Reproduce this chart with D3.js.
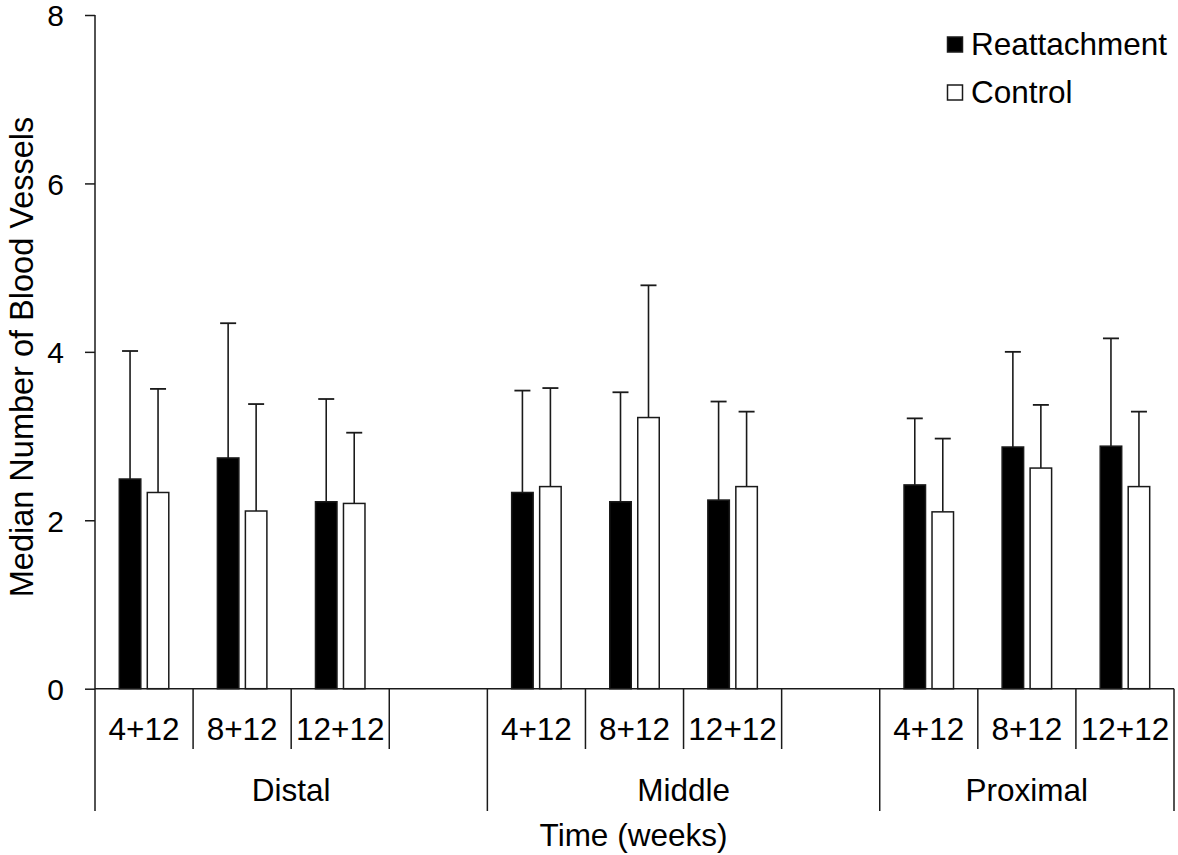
<!DOCTYPE html>
<html>
<head>
<meta charset="utf-8">
<script src="https://cdn.jsdelivr.net/npm/d3@7"></script>
<style>
  html, body { margin: 0; padding: 0; background: #fff; }
  svg { display: block; font-family: "Liberation Sans", Arial, Helvetica, sans-serif; }
  text { fill: #000; }
</style>
</head>
<body>
<svg id="chart" width="1178" height="855"></svg>
<script>
// ---- data ----
const groups = ["Distal", "Middle", "Proximal"];
const times = ["4+12", "8+12", "12+12"];
const seriesNames = ["Reattachment", "Control"];
const reattachment = [2.49, 2.74, 2.22, 2.33, 2.22, 2.24, 2.42, 2.87, 2.88];
const reattachmentUpper = [4.01, 4.34, 3.44, 3.54, 3.52, 3.41, 3.21, 4.00, 4.16];
const control = [2.33, 2.11, 2.20, 2.40, 3.22, 2.40, 2.10, 2.62, 2.40];
const controlUpper = [3.56, 3.38, 3.04, 3.57, 4.79, 3.29, 2.97, 3.37, 3.29];
const yTicks = [0, 2, 4, 6, 8];

// ---- layout ----
const svg = d3.select("#chart");
const plotLeft = 95, plotRight = 1174, plotTop = 15, plotBase = 688.7;
const ink = "#1a1a1a";
const labelSize = "31.5px";

// slots: each group has 3 time slots plus one empty slot (except last group)
const slots = [];
groups.forEach((g, gi) => {
  times.forEach((t, ti) => slots.push({ key: g + "|" + t, group: g, time: t, idx: gi * 3 + ti }));
  if (gi < groups.length - 1) slots.push({ key: g + "|empty", group: g, time: "", idx: -1 });
});

const y = d3.scaleLinear().domain([0, 8]).range([plotBase, plotTop]);
const x0 = d3.scaleBand().domain(slots.map(d => d.key)).range([plotLeft, plotRight]).padding(0);
const x1 = d3.scaleBand().domain(seriesNames).range([0, x0.bandwidth()])
  .paddingInner(0.232).paddingOuter(0.868);

// y axis
const yAxis = d3.axisLeft(y).tickValues(yTicks).tickSize(10).tickPadding(21).tickFormat(d3.format("d"));
const yg = svg.append("g").attr("transform", `translate(${plotLeft},0)`).call(yAxis);
yg.select(".domain").remove();
yg.selectAll(".tick line").attr("stroke", ink).attr("stroke-width", 1.5);
yg.selectAll(".tick text").attr("fill", "#000").style("font-size", "30px")
  .style("font-family", "'Liberation Sans', Arial, sans-serif").attr("dy", "0.36em");
svg.append("line").attr("x1", plotLeft).attr("x2", plotLeft).attr("y1", y(8)).attr("y2", 811)
  .attr("stroke", ink).attr("stroke-width", 1.5);

// baseline
svg.append("line").attr("x1", plotLeft).attr("x2", plotRight).attr("y1", plotBase).attr("y2", plotBase)
  .attr("stroke", ink).attr("stroke-width", 1.5);

// category separators
slots.forEach((s, i) => {
  const xr = x0(s.key) + x0.bandwidth();
  const isGroupEnd = (i === slots.length - 1) || (slots[i + 1] && slots[i + 1].group !== s.group);
  svg.append("line").attr("x1", xr).attr("x2", xr).attr("y1", plotBase).attr("y2", isGroupEnd ? 811 : 749)
    .attr("stroke", ink).attr("stroke-width", 1.5);
});

// category labels
svg.selectAll("text.cat").data(slots.filter(d => d.time)).join("text")
  .attr("class", "cat")
  .attr("x", d => x0(d.key) + x0.bandwidth() / 2)
  .attr("y", 740)
  .attr("text-anchor", "middle")
  .style("font-size", labelSize)
  .text(d => d.time);

// group labels
groups.forEach(g => {
  const ks = slots.filter(s => s.group === g);
  const xa = x0(ks[0].key), xb = x0(ks[ks.length - 1].key) + x0.bandwidth();
  svg.append("text").attr("x", (xa + xb) / 2).attr("y", 801).attr("text-anchor", "middle")
    .style("font-size", labelSize).text(g);
});

// axis titles
svg.append("text").attr("x", (plotLeft + plotRight) / 2 - 1).attr("y", 846).attr("text-anchor", "middle")
  .style("font-size", labelSize).text("Time (weeks)");
svg.append("text").attr("transform", "translate(32.5,357) rotate(-90)").attr("text-anchor", "middle")
  .style("font-size", "32.5px").text("Median Number of Blood Vessels");

// bars
const dataSlots = slots.filter(s => s.idx >= 0);
const seriesVals = { "Reattachment": [reattachment, reattachmentUpper], "Control": [control, controlUpper] };
const fills = { "Reattachment": "#000", "Control": "#fff" };

seriesNames.forEach(name => {
  const [vals, upper] = seriesVals[name];
  const g = svg.append("g");
  dataSlots.forEach(s => {
    const cx = x0(s.key) + x1(name);
    const w = x1.bandwidth();
    const mid = cx + w / 2;
    g.append("line").attr("x1", mid).attr("x2", mid).attr("y1", y(vals[s.idx])).attr("y2", y(upper[s.idx]))
      .attr("stroke", ink).attr("stroke-width", 1.6);
    g.append("line").attr("x1", mid - 8).attr("x2", mid + 8).attr("y1", y(upper[s.idx])).attr("y2", y(upper[s.idx]))
      .attr("stroke", ink).attr("stroke-width", 1.8);
    g.append("rect").attr("x", cx).attr("y", y(vals[s.idx])).attr("width", w)
      .attr("height", y(0) - y(vals[s.idx]))
      .attr("fill", fills[name]).attr("stroke", ink).attr("stroke-width", 1.5);
  });
});

// legend
const legend = svg.append("g");
seriesNames.forEach((name, i) => {
  const ly = 37 + i * 48;
  legend.append("rect").attr("x", 947.5).attr("y", ly).attr("width", 15).attr("height", 15)
    .attr("fill", fills[name]).attr("stroke", ink).attr("stroke-width", 1.5);
  legend.append("text").attr("x", 971).attr("y", ly + 18).style("font-size", labelSize).text(name);
});
</script>
</body>
</html>
